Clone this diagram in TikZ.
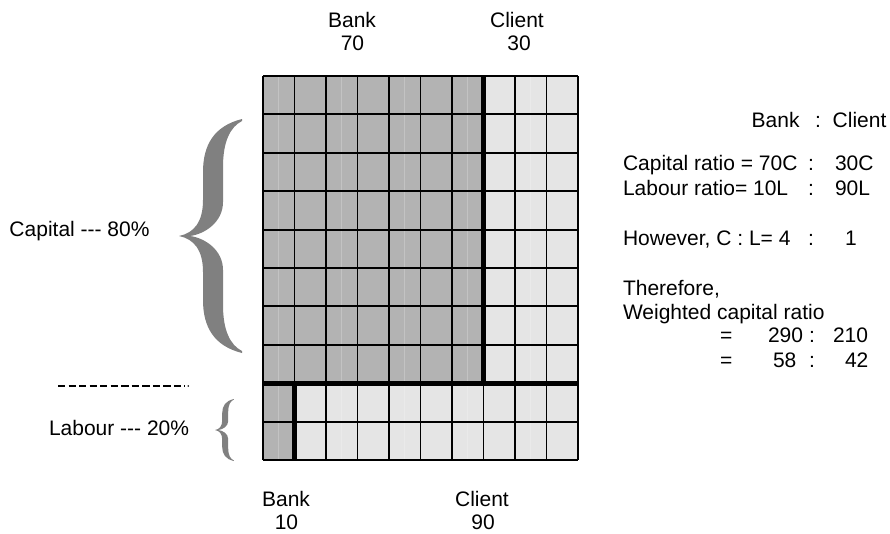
\documentclass[tikz,border=0pt]{standalone}
\usepackage{fontspec}
\setmainfont{Liberation Sans}
\usepackage{xcolor}
\usepackage{tikz}
\usetikzlibrary{positioning}
\definecolor{bankgray}{RGB}{179,179,179}
\definecolor{clientgray}{RGB}{229,229,229}
\definecolor{bracegray}{RGB}{128,128,128}
\newcommand\hy{\mbox{-}}
\tikzset{
  txt/.style={inner sep=0pt, outer sep=0pt, font=\fontsize{15.75}{19}\selectfont, anchor=base},
  txtw/.style={txt, anchor=base west},
  cellline/.style={line width=1.4pt},
  thickline/.style={line width=3.5pt},
  seam/.style={white, opacity=0.22, line width=0.5pt},
  dashline/.style={line width=1.1pt, dash pattern=on 5.5pt off 2.4pt}
}
\tikzset{
  curly/.pic={
    \fill[bracegray] (63,-117) .. controls (35,-110) and (24,-91) .. (24,-64)
      -- (24,-36) .. controls (24,-14) and (15,-3) .. (0,0)
      .. controls (15,3) and (24,14) .. (24,36)
      -- (24,64) .. controls (24,91) and (35,110) .. (63,117)
      -- (63,115) .. controls (51,109) and (44,94) .. (44,69)
      -- (44,34) .. controls (44,14) and (26,2) .. (11,0)
      .. controls (26,-2) and (44,-14) .. (44,-34)
      -- (44,-69) .. controls (44,-94) and (51,-109) .. (63,-115) -- cycle;
  }
}
\begin{document}
\begin{tikzpicture}[x=0.75pt, y=-0.75pt]
\useasboundingbox (0,0) rectangle (890,533);
\newcommand\XGrid{263}
\newcommand\YGrid{76}
\newcommand\CW{31.5}
\newcommand\RH{38.4}
\fill[bankgray] (\XGrid,\YGrid) rectangle ({\XGrid+7*\CW},{\YGrid+8*\RH});
\fill[clientgray] ({\XGrid+7*\CW},\YGrid) rectangle ({\XGrid+10*\CW},{\YGrid+8*\RH});
\fill[bankgray] (\XGrid,{\YGrid+8*\RH}) rectangle ({\XGrid+\CW},{\YGrid+10*\RH});
\fill[clientgray] ({\XGrid+\CW},{\YGrid+8*\RH}) rectangle ({\XGrid+10*\CW},{\YGrid+10*\RH});
\foreach \i in {0,2,4,6,8}
  \draw[seam] ({\XGrid+(\i+0.5)*\CW},\YGrid) -- ({\XGrid+(\i+0.5)*\CW},{\YGrid+10*\RH});
\foreach \i in {0,...,10}
  \draw[cellline] ({\XGrid+\i*\CW},\YGrid) -- ({\XGrid+\i*\CW},{\YGrid+10*\RH});
\foreach \j in {0,...,10}
  \draw[cellline] (\XGrid,{\YGrid+\j*\RH}) -- ({\XGrid+10*\CW},{\YGrid+\j*\RH});
\draw[thickline] ({\XGrid+7*\CW},\YGrid) -- ({\XGrid+7*\CW},{\YGrid+8*\RH});
\draw[thickline] (\XGrid,{\YGrid+8*\RH}) -- ({\XGrid+10*\CW},{\YGrid+8*\RH});
\draw[thickline] ({\XGrid+\CW},{\YGrid+8*\RH}) -- ({\XGrid+\CW},{\YGrid+10*\RH});

\node[txt] (bankTop) at (352,27) {Bank};
\node[txt] (bankTopVal) at (352.5,50) {70};
\node[txt] (clientTop) at (517,27) {Client};
\node[txt] (clientTopVal) at (519,50) {30};
\node[txt] (bankBot) at (286,506) {Bank};
\node[txt] (bankBotVal) at (286.5,529) {10};
\node[txt] (clientBot) at (482,506) {Client};
\node[txt] (clientBotVal) at (483,529) {90};

\pic (bigBrace) at (179,236) {curly};
\pic[xscale=0.3, yscale=0.265] (smallBrace) at (215,430) {curly};
\node[txtw] (capitalLbl) at (9.5,236) {Capital \hy\hy\hy{} 80\%};
\node[txtw] (labourLbl) at (49,435) {Labour \hy\hy\hy{} 20\%};
\coordinate (dashL) at (58,386);
\coordinate (dashR) at (185,386);
\draw[dashline] (dashL) -- (dashR);
\fill ([xshift=2.4pt]dashR) circle (0.7pt);

\node[txtw] (hdBank) at (751.7,127) {Bank};
\node[txt] (hdColon) at (818,127) {:};
\node[txtw] (hdClient) at (832.7,127) {Client};
\node[txtw] (capRatio) at (623,170) {Capital ratio = 70C};
\node[txt] (capColon) at (811,170) {:};
\node[txtw] (capClient) at (835,170) {30C};
\node[txtw] (labRatio) at (623,195) {Labour ratio= 10L};
\node[txt] (labColon) at (811,195) {:};
\node[txtw] (labClient) at (835,195) {90L};
\node[txtw] (however) at (623,245) {However, C : L= 4};
\node[txt] (howColon) at (811,245) {:};
\node[txtw] (howOne) at (845,245) {1};
\node[txtw] (therefore) at (623,295) {Therefore,};
\node[txtw] (weighted) at (623,319) {Weighted capital ratio};
\node[txtw] (eqOne) at (720,342) {=};
\node[txtw] (wBank) at (768,342) {290};
\node[txt] (wColon) at (812,342) {:};
\node[txtw] (wClient) at (833,342) {210};
\node[txtw] (eqTwo) at (720,367) {=};
\node[txtw] (pBank) at (773,367) {58};
\node[txt] (pColon) at (812,367) {:};
\node[txtw] (pClient) at (845,367) {42};
\end{tikzpicture}
\end{document}
